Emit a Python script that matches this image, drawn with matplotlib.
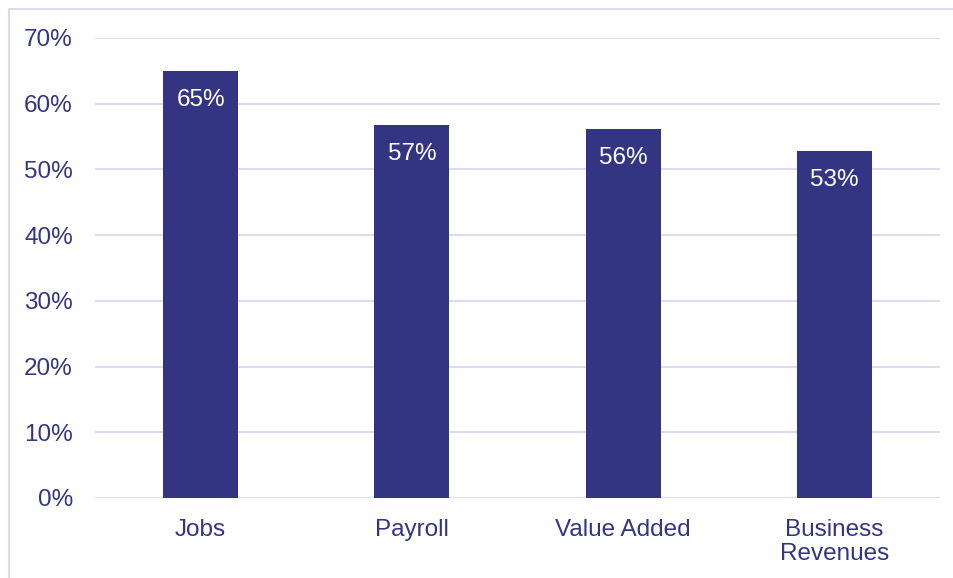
import matplotlib.pyplot as plt
from matplotlib.lines import Line2D

plt.rcParams['font.family'] = ['Liberation Sans', 'DejaVu Sans']

categories = ['Jobs', 'Payroll', 'Value Added', 'Business\nRevenues']
shares = [65.0, 56.8, 56.2, 52.8]
labels = ['65%', '57%', '56%', '53%']
yticks = [0, 10, 20, 30, 40, 50, 60, 70]

bar_color = '#343582'
text_color = '#333580'
grid_color = '#dcdcef'

fig = plt.figure(figsize=(9.54, 5.78), dpi=100)
ax = fig.add_axes([95 / 954, 1 - 498 / 578, 845 / 954, 460 / 578])

# frame around the chart: only left and top edges show
fx, fy = 9 / 954, 1 - 9 / 578
fig.lines.append(Line2D([fx, fx], [0, fy], transform=fig.transFigure,
                        color=grid_color, linewidth=1.5))
fig.lines.append(Line2D([fx, 1], [fy, fy], transform=fig.transFigure,
                        color=grid_color, linewidth=1.5))

x = range(len(categories))
bars = ax.bar(x, shares, width=0.355, color=bar_color, zorder=3)

for b, lab in zip(bars, labels):
    ax.annotate(lab, (b.get_x() + b.get_width() / 2, b.get_height()),
                xytext=(0, -29), textcoords='offset pixels',
                ha='center', va='center', color='white', fontsize=17.5)

ax.set_xlim(-0.5, 3.5)
ax.set_ylim(0, 70)
ax.set_yticks(yticks)
ax.set_yticklabels([f'{v}%' for v in yticks])
ax.set_xticks(list(x))
ax.set_xticklabels(categories, linespacing=1.15)

ax.grid(axis='y', color=grid_color, linewidth=1.5, zorder=0)
ax.tick_params(axis='both', length=0, labelsize=17.5, colors=text_color)
ax.tick_params(axis='y', pad=16)
ax.tick_params(axis='x', pad=15)
for s in ax.spines.values():
    s.set_visible(False)

plt.savefig('out.png', dpi=100)
